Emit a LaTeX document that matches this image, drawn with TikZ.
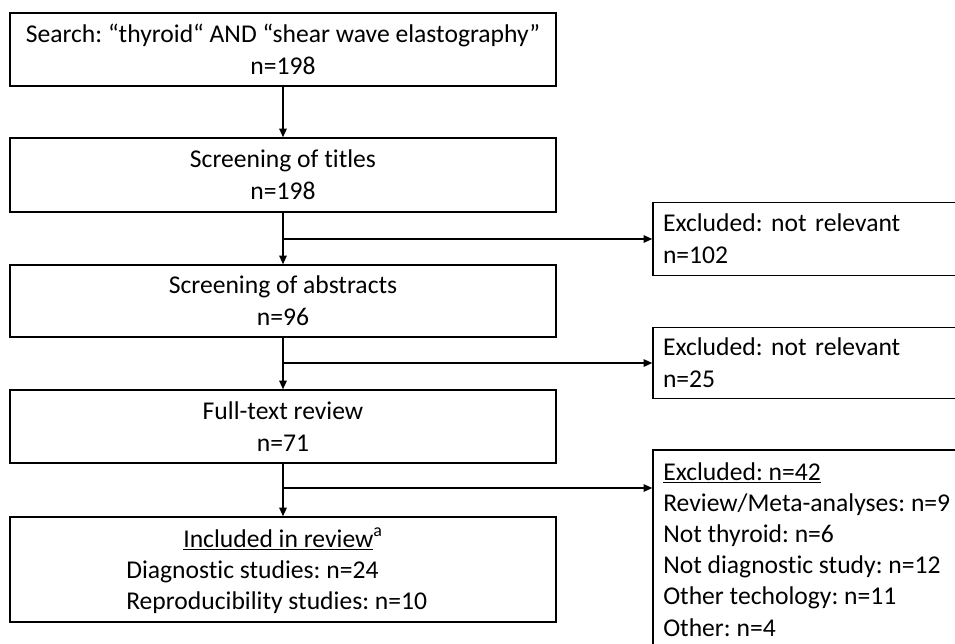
\documentclass[tikz,border=0pt]{standalone}
\usepackage{fontspec}
\setmainfont{Carlito}[Ligatures={NoCommon}]
\usetikzlibrary{arrows.meta}
\begin{document}
\frenchspacing
\begin{tikzpicture}[x=0.75pt,y=-0.75pt,
  txt/.style={font=\fontsize{19.2}{23.4}\selectfont\frenchspacing},
  txtw/.style={font=\fontsize{19.2}{24.2}\selectfont\frenchspacing},
  box/.style={draw, line width=1pt, inner sep=0pt, align=center, txtw, minimum width=409.5pt},
  exbox/.style={draw, line width=1pt, inner sep=0pt, align=left, txtw, minimum width=241.5pt, text width=226.5pt},
  arr/.style={line width=1.2pt, -{Triangle[length=6.5pt,width=5.5pt]}}]
\clip (0,0) rectangle (955,643);
\node[box, minimum height=54.75pt] (b1) at (283,49.5) {Search: “thyroid“ AND “shear wave elastography”\\n=198};
\node[box, minimum height=55.5pt] (b2) at (283,175) {Screening of titles\\n=198};
\node[box, minimum height=54pt] (b3) at (283,301) {Screening of abstracts\\n=96};
\node[box, minimum height=54.75pt] (b4) at (283,426.5) {Full-text review\\n=71};
\node[box, minimum height=78.75pt] (b5) at (283,569.5) {};
\node[txt, anchor=base, inner sep=0pt] (i1) at (283,547) {\underline{Included in review}\textsuperscript{a}};
\node[txt, anchor=base west, inner sep=0pt] (i2) at (126,578) {Diagnostic studies: n=24};
\node[txt, anchor=base west, inner sep=0pt] (i3) at (126,609) {Reproducibility studies: n=10};
\node[exbox, minimum height=54.75pt] (e1) at (814,239) {Excluded: not relevant\\n=102};
\node[exbox, minimum height=53.25pt] (e2) at (814,363) {Excluded: not relevant\\n=25};
\node[draw, line width=1pt, inner sep=0pt, minimum width=241.5pt, minimum height=157.5pt] (e3) at (814,555) {};
\node[txt, anchor=north west, inner sep=0pt, align=left] (e3t) at (663,462) {\underline{Excluded: n=42}\\Review/Meta-analyses: n=9\\Not thyroid: n=6\\Not diagnostic study: n=12\\Other techology: n=11\\Other: n=4};
\coordinate (j3) at (283,488);
\draw[arr] (b1.south) -- (b2.north);
\draw[arr] (b2.south) -- (b3.north);
\draw[arr] (b3.south) -- (b4.north);
\draw[arr] (b4.south) -- (b5.north);
\draw[arr] (b2.south |- e1.west) -- (e1.west);
\draw[arr] (b3.south |- e2.west) -- (e2.west);
\draw[arr] (j3) -- (j3 -| e3.west);
\end{tikzpicture}
\end{document}
